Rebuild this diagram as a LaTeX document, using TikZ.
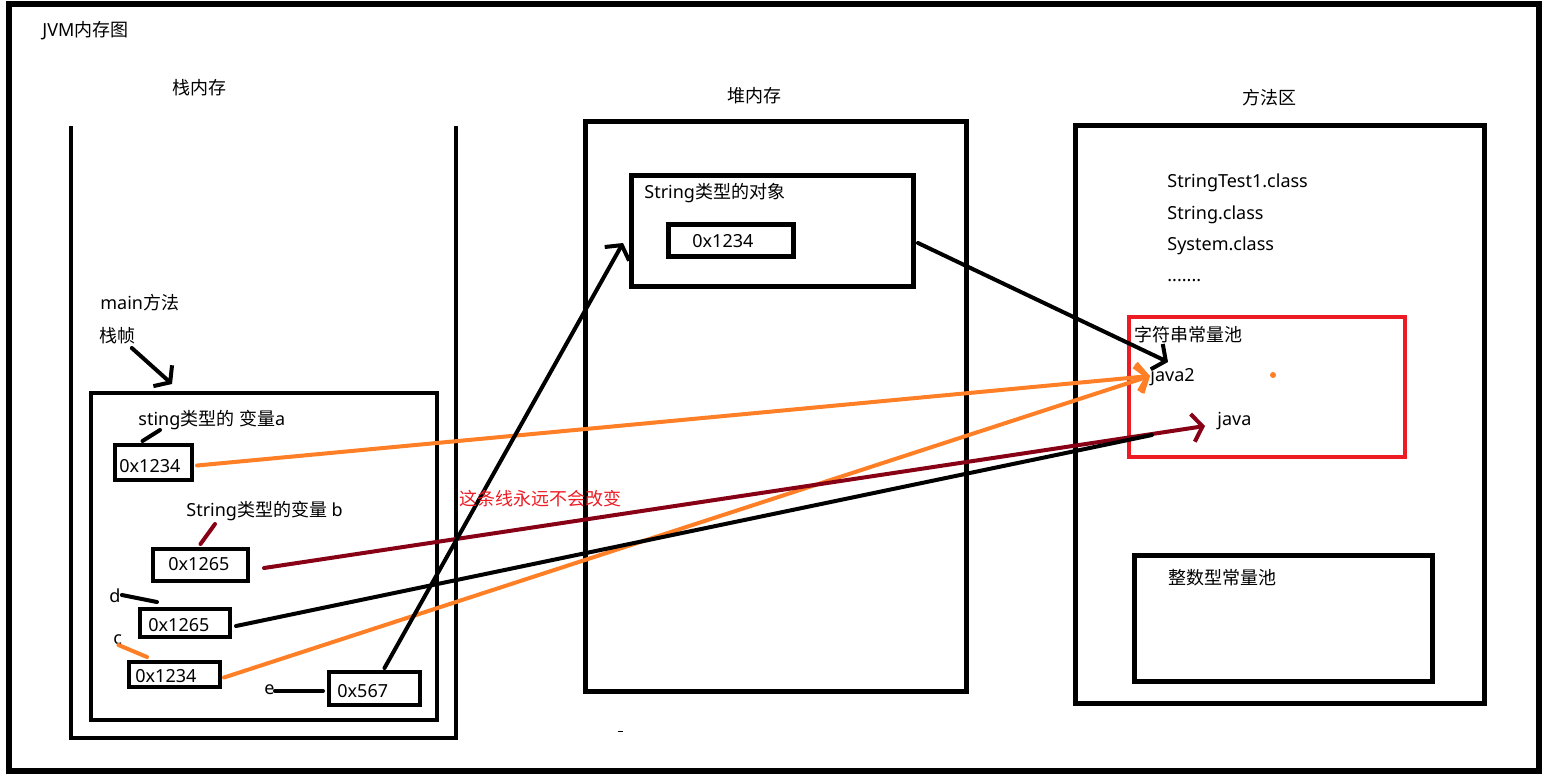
\documentclass[tikz,border=0pt]{standalone}
\usepackage{fontspec}
\setmainfont{Noto Sans}
\newfontfamily\cjkfont{Noto Sans CJK SC}
\newcommand\zh[1]{{\cjkfont #1}}
\usetikzlibrary{arrows.meta,calc}
\definecolor{porange}{RGB}{255,127,39}
\definecolor{pdred}{RGB}{136,0,21}
\definecolor{pred}{RGB}{237,28,36}
\tikzset{
  box/.style={draw, line width=2pt, inner sep=0pt},
  thickbox/.style={draw, line width=2.5pt, inner sep=0pt},
  lbl/.style={anchor=west, inner sep=0pt},
  conn/.style={line width=2pt, line cap=round},
  barb/.style={-{Straight Barb[length=5pt,width=14pt]}},
}
\begin{document}
\begin{tikzpicture}[x=0.5pt,y=-0.5pt,font=\fontsize{9pt}{11pt}\selectfont]
\useasboundingbox (0,0) rectangle (1561,782);
% outer frame
\draw[line width=3pt] (8.5,4) rectangle (1539,771);
\node[lbl] (title) at (42,31) {JVM\zh{内存图}};

% ---------------- stack ----------------
\node[lbl] (stacktitle) at (172,88) {\zh{栈内存}};
\draw[line width=2pt] (71,126) -- (71,738) -- (456,738) -- (456,126);
\node[box, minimum width=173pt, minimum height=163.5pt] (frame) at (264,556.5) {};
\node[lbl] (mainm) at (100,303) {main\zh{方法}};
\node[lbl] (zhen) at (99,336) {\zh{栈帧}};
\draw[conn,barb] ($(zhen.east)+(-4,12)$) -- ($(frame.north west)+(83,-7)$);

\node[lbl] (vara) at (138,420) {sting\zh{类型的} \zh{变量}a};
\node[box, minimum width=38.5pt, minimum height=17.5pt] (boxa) at (153.5,462.5) {};
\node[lbl] (ta) at (119,466) {0x1234};
\draw[conn] ($(vara.west)+(22,10)$) -- ($(boxa.north)+(-11,-2)$);

\node[lbl] (varb) at (186,511) {String\zh{类型的变量} b};
\node[box, minimum width=47.5pt, minimum height=16pt] (boxb) at (200.5,565) {};
\node[lbl] (tb) at (168,564) {0x1265};
\draw[conn,pdred] ($(varb.west)+(29,13)$) -- ($(boxb.north)+(0,-3)$);

\node[lbl] (dvar) at (109,596) {d};
\node[box, minimum width=45pt, minimum height=14pt] (boxd) at (185,623) {};
\node[lbl] (td) at (148,625) {0x1265};
\draw[conn] ($(dvar.east)+(1,-1)$) -- ($(boxd.north west)+(19,-5)$);

\node[lbl] (cvar) at (113,640) {c};
\node[box, minimum width=45.5pt, minimum height=12.5pt] (boxc) at (174.5,674.5) {};
\node[lbl] (tc) at (135,676) {0x1234};
\draw[conn,porange] ($(cvar.east)+(-4,5)$) -- ($(boxc.north west)+(20,-3)$);

\node[lbl] (evar) at (264,690) {e};
\node[box, minimum width=45.5pt, minimum height=16.5pt] (boxe) at (374.5,688.5) {};
\node[lbl] (te) at (337,691) {0x567};
\draw[conn] ($(evar.east)+(0,1)$) -- ($(boxe.west)+(-4,2.5)$);

% ---------------- heap ----------------
\node[lbl] (heaptitle) at (727,96) {\zh{堆内存}};
\node[thickbox, minimum width=190.5pt, minimum height=285pt] (heap) at (776,406.5) {};
\node[thickbox, minimum width=141pt, minimum height=55.5pt] (obj) at (772.5,231) {};
\node[lbl] (objlbl) at (644,193) {String\zh{类型的对象}};
\node[thickbox, minimum width=62.5pt, minimum height=16pt] (inner) at (731,240.5) {};
\node[lbl] (tinner) at (692,241) {0x1234};
\draw[line width=0.5pt] (618,731) -- (623,731);

% ---------------- method area ----------------
\node[lbl] (mtitle) at (1242,98) {\zh{方法区}};
\node[thickbox, minimum width=204.5pt, minimum height=289pt] (method) at (1280,414.5) {};
\node[lbl] (c1) at (1167,183) {StringTest1.class};
\node[lbl] (c2) at (1167,215) {String.class};
\node[lbl] (c3) at (1167,246) {System.class};
\node[lbl] (c4) at (1167,281) {.......};
\node[draw=pred, line width=2pt, inner sep=0pt, minimum width=138pt, minimum height=70pt] (spool) at (1267,387) {};
\node[lbl] (spoollbl) at (1134,335) {\zh{字符串常量池}};
\node[lbl] (java2) at (1150,377) {java2};
\node[lbl] (java) at (1217,421) {java};
\fill[porange] (1273,375) circle (1.5pt);
\node[thickbox, minimum width=149pt, minimum height=63pt] (ipool) at (1283.5,618.5) {};
\node[lbl] (ipoollbl) at (1168,578) {\zh{整数型常量池}};

% ---------------- connectors ----------------
\coordinate (dend) at (1152,435);
\draw[conn,porange,barb] ($(boxa.east)+(3,3)$) -- ($(java2.west)+(0,-1)$);
\draw[conn,porange,barb] ($(boxc.east)+(2,3)$) -- ($(java2.west)+(0,-1)$);
\draw[conn,pdred,barb] ($(boxb.east)+(14,3)$) -- ($(java.west)+(-12,5)$);
\draw[conn] ($(boxd.east)+(4,3)$) -- (dend);
\draw[conn,barb] ($(boxe.north)+(10,-2)$) -- ($(obj.west)+(-6,12)$);
\draw[conn,barb] ($(obj.east)+(2,12)$) -- ($(java2.west)+(18,-15)$);
\node[lbl, text=pred] (note) at (459,499) {\zh{这条线永远不会改变}};
\end{tikzpicture}
\end{document}
